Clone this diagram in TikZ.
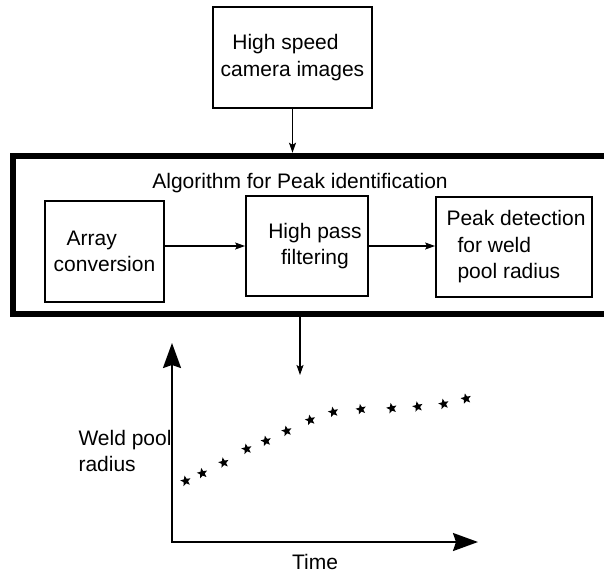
\documentclass[tikz,border=0pt]{standalone}
\usepackage{fontspec}
\setmainfont{Liberation Sans}
\usetikzlibrary{arrows.meta}
\usetikzlibrary{shapes.geometric}

\tikzset{
  box/.style={draw, line width=1.8pt, align=center, inner sep=0pt},
  arr/.style={-{Stealth[length=10pt,width=7pt,inset=2pt]}, line width=1.1pt},
  axis/.style={{Stealth[length=25pt,width=18pt,inset=3pt]}-{Stealth[length=25pt,width=18pt,inset=3pt]}, line width=2pt, line join=miter},
  pt/.style={star, star points=5, star point ratio=2.3, fill=black, minimum size=11pt, inner sep=0pt, rotate=12},
}

\begin{document}
\begin{tikzpicture}[x=1pt, y=-1pt, every node/.style={font=\fontsize{21}{26.5}\selectfont}]
\useasboundingbox (0,0) rectangle (604,574);
\clip (0,0) rectangle (604,574);

% Blocchi
\node[box, minimum width=159pt, minimum height=101pt] (cam) at (292.5,57.5) {High speed\hspace*{14pt}\\camera images};
\node[draw, line width=6.5pt, minimum width=607pt, minimum height=158pt] (algo) at (316.5,235) {};
\node (title) at (300,183) {Algorithm for Peak identification};
\node[box, minimum width=119pt, minimum height=101pt, align=left] (conv) at (104.5,251.5) {\hspace*{13pt}Array\\conversion};
\node[box, minimum width=122pt, minimum height=100pt] (hpf) at (307,246) {\hspace*{16pt}High pass\\\hspace*{16pt}filtering};
\node[box, minimum width=156pt, minimum height=100pt, align=left] (peak) at (514,247) {\hspace*{4pt}Peak detection\\\hspace*{15pt}for weld\\\hspace*{15pt}pool radius};

% Frecce
\draw[arr] (cam) -- (cam |- algo.north);
\draw[arr] (conv.east |- hpf) -- (hpf.west);
\draw[arr] (hpf.east) -- (hpf.east -| peak.west);
\coordinate (drop) at (300,375);
\draw[arr] (drop |- algo.south) -- (drop);

% Grafico
\coordinate (o) at (172,542);
\coordinate (ytop) at (172,343);
\coordinate (xend) at (478,542);
\draw[axis] (ytop) -- (o) -- (xend);
\node[anchor=west, align=left] (ylab) at (75,451) {Weld pool\\radius};
\node (xlab) at (315,562) {Time};

\foreach \x/\y [count=\i] in {185.7/481, 202.3/473.3, 223.7/462.7, 246.7/449, 266/441, 286.7/431, 310.3/420, 333.3/412, 361/409.3, 391.7/408.3, 417.7/406.7, 443.7/404, 466/398.7}
  \node[pt] (s\i) at (\x,\y) {};
\end{tikzpicture}
\end{document}
